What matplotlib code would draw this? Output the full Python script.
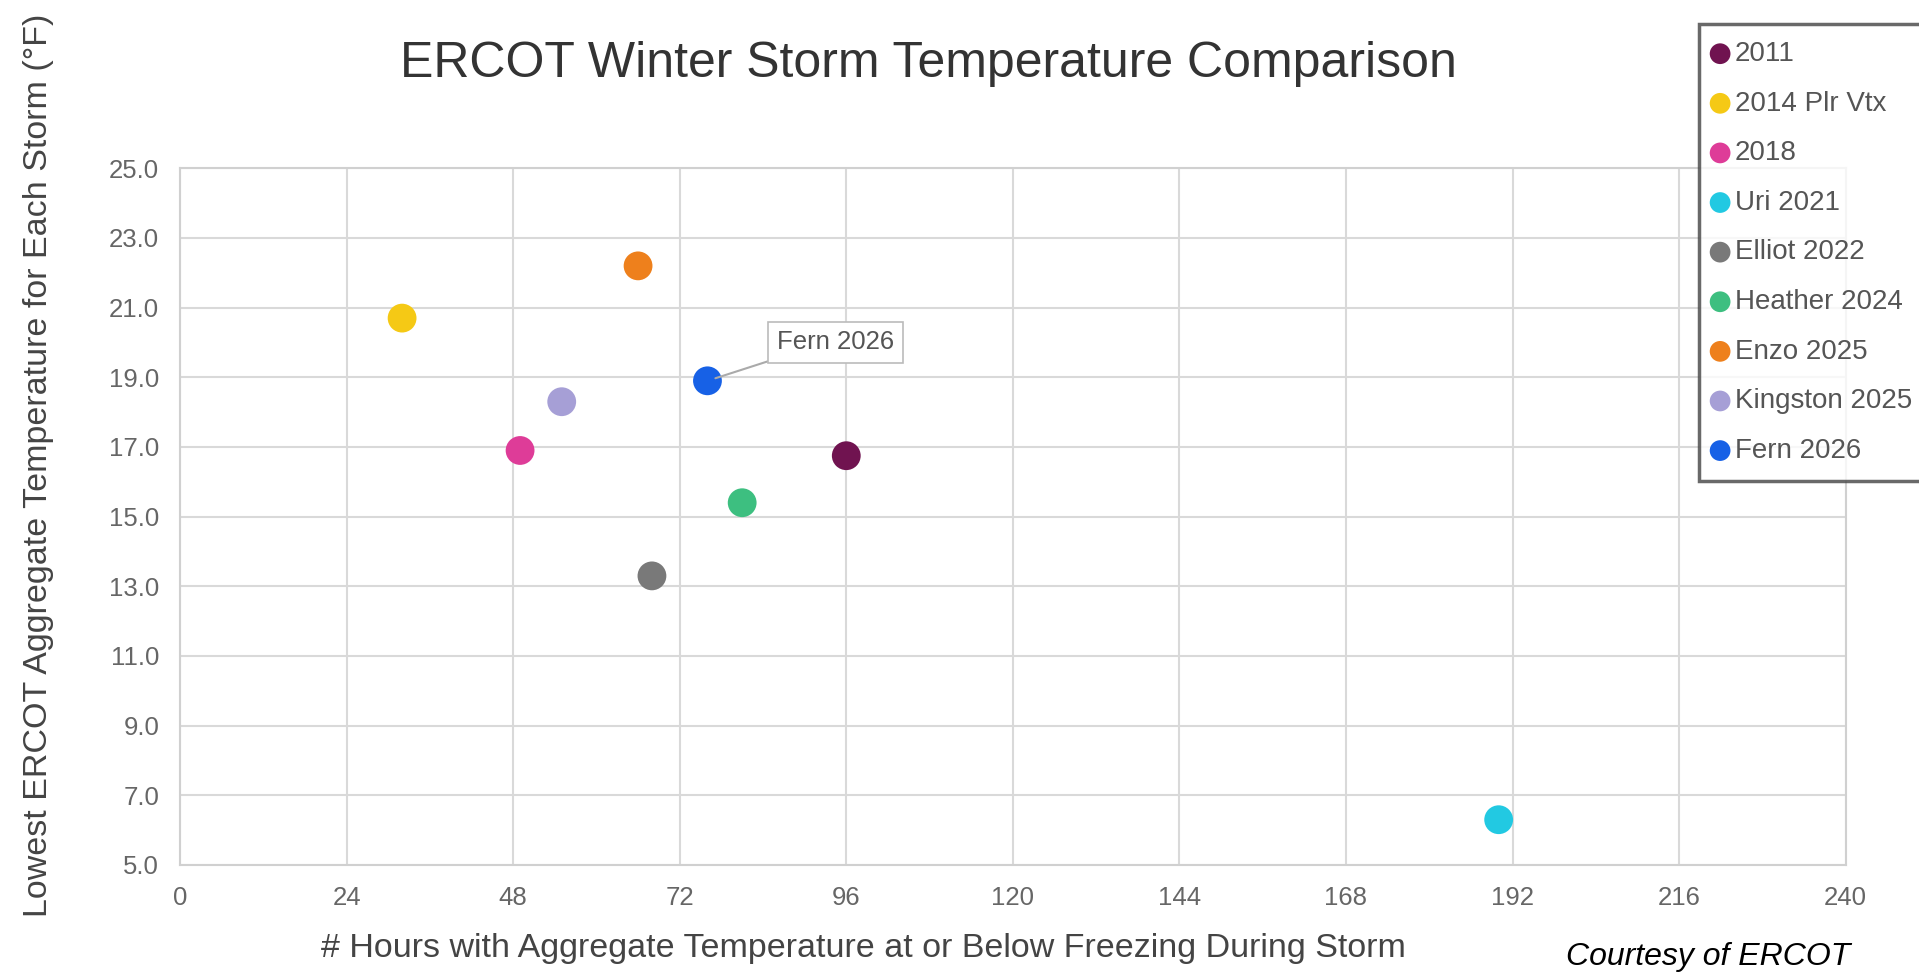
import matplotlib
matplotlib.use("Agg")
import matplotlib.pyplot as plt

plt.rcParams['font.family'] = ['Liberation Sans', 'DejaVu Sans']

# storm data
storms = ['2011', '2014 Plr Vtx', '2018', 'Uri 2021', 'Elliot 2022',
          'Heather 2024', 'Enzo 2025', 'Kingston 2025', 'Fern 2026']
hours = [96.0, 32.0, 49.0, 190.0, 68.0, 81.0, 66.0, 55.0, 76.0]
low_temp = [16.75, 20.7, 16.9, 6.3, 13.3, 15.4, 22.2, 18.3, 18.9]
colors = ['#701350', '#F5C915', '#DE3C98', '#22C9E2', '#797979',
          '#3DBF80', '#EE801C', '#A69FD6', '#1761E6']

x_ticks = list(range(0, 241, 24))
y_ticks = [5.0 + 2 * i for i in range(11)]

fig = plt.figure(figsize=(19.19, 9.73), dpi=100)
ax = fig.add_axes([0.0938, 0.111, 0.868, 0.716])

for name, x, y, c in zip(storms, hours, low_temp, colors):
    ax.scatter([x], [y], s=430, color=c, label=name, zorder=3, edgecolors='none')

ax.set_xlim(0, 240)
ax.set_ylim(5, 25)
ax.set_xticks(x_ticks)
ax.set_yticks(y_ticks)
ax.set_yticklabels([f'{v:.1f}' for v in y_ticks])
ax.grid(True, color='#d9d9d9', linewidth=1.5, zorder=0)
ax.set_axisbelow(True)
for sp in ax.spines.values():
    sp.set_color('#d0d0d0')
    sp.set_linewidth(1.5)
ax.tick_params(length=0, labelsize=18.5, labelcolor='#666666', pad=15)

# callout for the newest storm
ax.annotate('Fern 2026', xy=(hours[-1], low_temp[-1]), xytext=(94.5, 20.0),
            ha='center', va='center', fontsize=18.5, color='#555555',
            bbox=dict(boxstyle='square,pad=0.35', fc='white', ec='#bbbbbb', lw=1.2),
            arrowprops=dict(arrowstyle='-', color='#aaaaaa', lw=1.5,
                            relpos=(0.1, 0.0), shrinkA=0, shrinkB=6),
            zorder=4)

fig.text(0.484, 0.934, 'ERCOT Winter Storm Temperature Comparison',
         ha='center', va='center', fontsize=36, color='#333333')
fig.text(0.020, 0.522, 'Lowest ERCOT Aggregate Temperature for Each Storm (\u00b0F)',
         rotation=90, ha='center', va='center', fontsize=24.5, color='#444444')
fig.text(0.450, 0.025, '# Hours with Aggregate Temperature at or Below Freezing During Storm',
         ha='center', va='center', fontsize=24.5, color='#444444')
fig.text(0.964, 0.016, 'Courtesy of ERCOT', ha='right', va='center', fontsize=23,
         style='italic', color='black')

leg = fig.legend(loc='upper left', bbox_to_anchor=(0.8855, 0.975), fontsize=20,
                 frameon=True, fancybox=False, handletextpad=0.38, borderpad=0.6,
                 labelspacing=0.85, markerscale=0.72, borderaxespad=0.0,
                 handlelength=0.3)
frame = leg.get_frame()
frame.set_edgecolor('#444444')
frame.set_linewidth(2.5)
for t in leg.get_texts():
    t.set_color('#555555')

fig.savefig('out.png', dpi=100)
